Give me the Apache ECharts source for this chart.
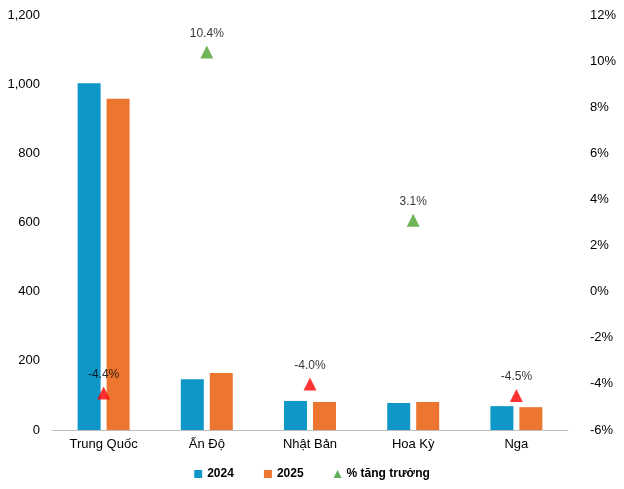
<!DOCTYPE html>
<html>
<head>
<meta charset="utf-8">
<script src="https://cdn.jsdelivr.net/npm/echarts@6/dist/echarts.min.js"></script>
<style>html,body{margin:0;padding:0;background:#fff}#chart{width:624px;height:489px}</style>
</head>
<body>
<div id="chart"></div>
<script>
const categories = ['Trung Quốc', 'Ấn Độ', 'Nhật Bản', 'Hoa Kỳ', 'Nga'];
const values2024 = [1003, 147, 84, 78, 69];
const values2025 = [958, 165, 81, 81, 66];
const growth = [-4.4, 10.4, -4.0, 3.1, -4.5];

const chart = echarts.init(document.getElementById('chart'));
const font = 'Arial, "Liberation Sans", sans-serif';

const option = {
  animation: false,
  textStyle: { fontFamily: font },
  grid: { left: 52, right: 56, top: 15, bottom: 59 },
  legend: {
    bottom: 4,
    itemWidth: 8, itemHeight: 8, itemGap: 30,
    textStyle: { fontWeight: 'bold', fontSize: 12, color: '#000' },
    data: [
      { name: '2024', icon: 'rect' },
      { name: '2025', icon: 'rect' },
      { name: '% tăng trưởng', icon: 'triangle', itemStyle: { color: '#3a9b35' } }
    ]
  },
  xAxis: {
    type: 'category',
    data: categories,
    axisTick: { show: false },
    axisLine: { lineStyle: { color: '#bfbfbf' } },
    axisLabel: { color: '#000', fontSize: 13, margin: 8 }
  },
  yAxis: [
    {
      type: 'value', min: 0, max: 1200, interval: 200,
      splitLine: { show: false },
      axisLabel: { color: '#000', fontSize: 13, margin: 12, formatter: v => v.toLocaleString('en-US') }
    },
    {
      type: 'value', min: -6, max: 12, interval: 2,
      splitLine: { show: false },
      axisLabel: { color: '#000', fontSize: 13, margin: 22, formatter: '{value}%' }
    }
  ],
  series: [
    { name: '2024', type: 'bar', data: values2024, barWidth: 23, barGap: '26%', itemStyle: { color: '#0f97c8' } },
    { name: '2025', type: 'bar', data: values2025, barWidth: 23, itemStyle: { color: '#ec7530' } },
    {
      name: '% tăng trưởng', type: 'scatter', yAxisIndex: 1,
      symbol: 'triangle', symbolSize: 13,
      data: growth.map(v => ({ value: v, itemStyle: { color: v >= 0 ? '#4ea22e' : '#ff0000' } })),
      label: { show: true, position: 'top', distance: 6, color: '#000', fontSize: 12,
        formatter: p => p.value.toFixed(1) + '%' }
    }
  ]
};
chart.setOption(option);
</script>
</body>
</html>
